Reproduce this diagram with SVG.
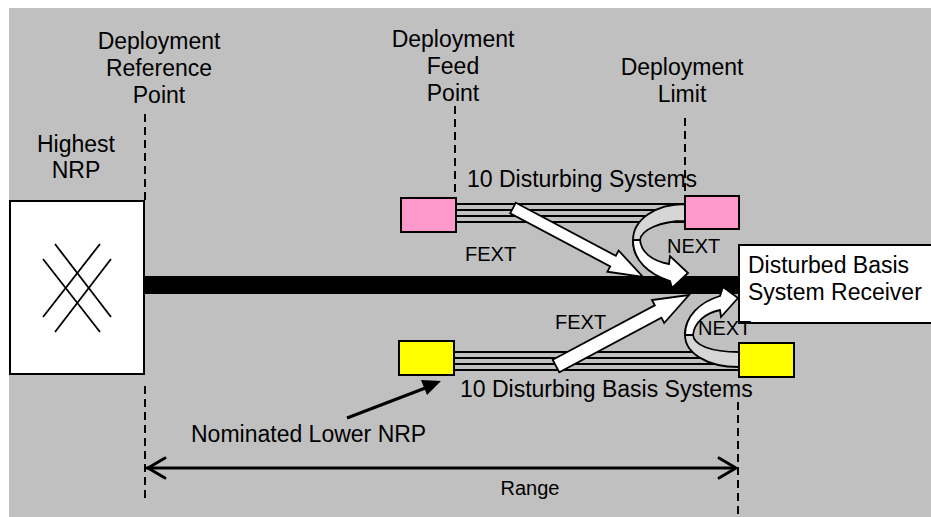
<svg xmlns="http://www.w3.org/2000/svg" width="931" height="517" viewBox="0 0 931 517">
<style>
.t{font-family:"Liberation Sans",Arial,sans-serif;font-size:23px;fill:#000}
.s{font-family:"Liberation Sans",Arial,sans-serif;font-size:20px;fill:#000}
.box{stroke:#000;stroke-width:2}
.dash{stroke:#000;stroke-width:2;stroke-dasharray:8 5;fill:none}
.wire{stroke:#000;stroke-width:1.8;fill:none}
.blk{fill:#fff;stroke:#000;stroke-width:1.8;stroke-linejoin:miter}
.back{fill:#d6d6d6;stroke:#000;stroke-width:1.8}
</style>
<rect x="9" y="8" width="922" height="509" fill="#c0c0c0"/>

<g id="labels">
<text class="t" text-anchor="middle" x="159" y="49">Deployment</text>
<text class="t" text-anchor="middle" x="159" y="76">Reference</text>
<text class="t" text-anchor="middle" x="159" y="103">Point</text>
<text class="t" text-anchor="middle" x="453" y="47">Deployment</text>
<text class="t" text-anchor="middle" x="453" y="74">Feed</text>
<text class="t" text-anchor="middle" x="453" y="101">Point</text>
<text class="t" text-anchor="middle" x="682" y="75">Deployment</text>
<text class="t" text-anchor="middle" x="682" y="102">Limit</text>
<text class="t" text-anchor="middle" x="76" y="152">Highest</text>
<text class="t" text-anchor="middle" x="76" y="178">NRP</text>
</g>

<g id="guides">
<line class="dash" x1="145" y1="114" x2="145" y2="201"/>
<line class="dash" x1="145" y1="386" x2="145" y2="502"/>
<line class="dash" x1="455" y1="106" x2="455" y2="198"/>
<line class="dash" x1="685" y1="118" x2="685" y2="196"/>
<line class="dash" x1="738" y1="402" x2="738" y2="517"/>
</g>

<g id="highest-nrp">
<rect class="box" x="10" y="201" width="134" height="173" fill="#fff"/>
<g stroke="#000" stroke-width="1.8">
<line x1="55" y1="244" x2="111" y2="317"/>
<line x1="43" y1="259" x2="100" y2="332"/>
<line x1="100" y1="244" x2="43" y2="317"/>
<line x1="111" y1="259" x2="55" y2="332"/>
</g>
</g>

<g id="main-line">
<rect x="144" y="276" width="595" height="18" fill="#000"/>
</g>

<g id="receiver">
<rect class="box" x="739" y="245" width="200" height="78" fill="#fff"/>
<text class="t" x="748" y="273">Disturbed Basis</text>
<text class="t" x="748" y="300">System Receiver</text>
</g>

<g id="connectors">
<g id="upper-wires">
<line class="wire" x1="456" y1="204" x2="685" y2="204"/>
<line class="wire" x1="456" y1="210" x2="685" y2="210"/>
<line class="wire" x1="456" y1="216" x2="685" y2="216"/>
<line class="wire" x1="456" y1="222" x2="685" y2="222"/>
</g>
<g id="lower-wires">
<line class="wire" x1="454" y1="352" x2="739" y2="352"/>
<line class="wire" x1="454" y1="358" x2="739" y2="358"/>
<line class="wire" x1="454" y1="364" x2="739" y2="364"/>
<line class="wire" x1="454" y1="370" x2="739" y2="370"/>
</g>
<path class="back" d="M685,204 C655,204 633,220 633,240 C633,248 635,254 638,258 L643,254 C641,250 640,245 640,240 C641,230 660,221 685,221 Z"/>
<path class="blk" d="M633,240 C633,260 648,274 670,281 L672,288 L688,273 L670,256 L669,264 C652,261 641,252 640,240 Z"/>
<path class="back" d="M739,367 C705,367 685,352 685,335 C685,328 687,322 690,318 L697,322 C694,326 693,331 693,335 C694,345 710,352 739,352 Z"/>
<path class="blk" d="M685,335 C685,316 700,302 720,296 L723,287 L738,298 L721,317 L720,310 C705,313 694,323 693,335 Z"/>
<polygon class="blk" points="515.8,202.7 615.8,255.8 618.6,250.5 643,277 607.4,271.7 610.2,266.4 510.2,213.3"/>
<polygon class="blk" points="552.7,359.8 654.8,305.3 652,300 689,295 664.2,323 661.4,317.7 559.3,372.2"/>
<g id="nominated-arrow">
<line x1="347" y1="418" x2="428" y2="387" stroke="#000" stroke-width="3"/>
<polygon points="441,381 427,395 421,380" fill="#000"/>
</g>
<g id="range-arrow" stroke="#000" stroke-width="3" fill="none" stroke-linecap="round" stroke-linejoin="round">
<line x1="147" y1="468" x2="735" y2="468"/>
<polyline points="165,458 148,468 165,478"/>
<polyline points="719,458 736,468 719,478"/>
</g>
</g>

<g id="pink-left"><rect class="box" x="401" y="198" width="55" height="34" fill="#ff99cc"/></g>
<g id="pink-right"><rect class="box" x="685" y="196" width="54" height="33" fill="#ff99cc"/></g>
<g id="yellow-left"><rect class="box" x="399" y="341" width="55" height="34" fill="#ffff00"/></g>
<g id="yellow-right"><rect class="box" x="739" y="343" width="55" height="34" fill="#ffff00"/></g>

<g id="texts">
<text class="t" x="467" y="187">10 Disturbing Systems</text>
<text class="s" x="465" y="261">FEXT</text>
<text class="s" x="667" y="253">NEXT</text>
<text class="s" x="555" y="329">FEXT</text>
<text class="s" x="698" y="335">NEXT</text>
<text class="t" x="460" y="397">10 Disturbing Basis Systems</text>
<text class="t" x="191" y="442">Nominated Lower NRP</text>
<text class="s" text-anchor="middle" x="530" y="495">Range</text>
</g>
</svg>
